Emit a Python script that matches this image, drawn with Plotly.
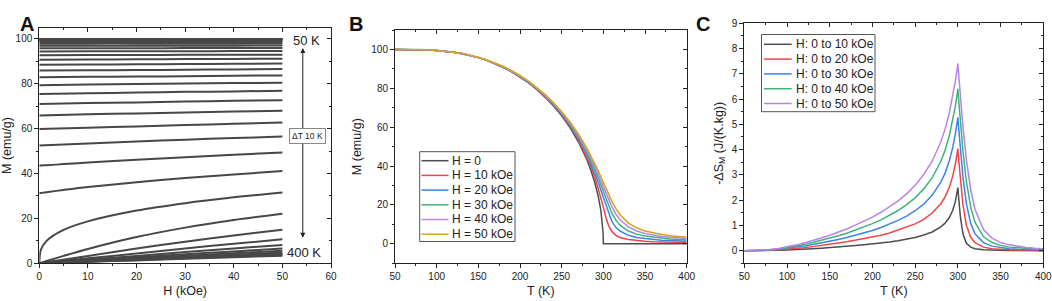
import plotly.graph_objects as go

# ---------------- data ----------------
# Temperatures (K) used for the M(T) and -dS(T) curves
T_K = [50, 60, 70, 80, 90, 100, 110, 120, 130, 140, 150, 160, 170, 180, 190, 200, 210, 220, 230, 240,
       250, 260, 270, 280, 285, 290, 294, 297, 299, 299.7, 300, 301, 303, 306, 310, 315, 320, 330, 340,
       350, 360, 370, 380, 390, 400]

# Magnetisation (emu/g) at each temperature, one list per field
M_H0 = [100.0, 100.0, 100.0, 99.9, 99.7, 99.5, 99.1, 98.6, 97.8, 96.9, 95.8, 94.4, 92.7, 90.7, 88.5,
        85.9, 82.9, 79.4, 75.5, 71.0, 65.9, 59.8, 52.5, 43.5, 37.9, 31.2, 24.3, 17.2, 10.0, 5.5,
        0, 0, 0, 0, 0, 0, 0, 0, 0, 0, 0, 0, 0, 0, 0]
M_H10 = [100.0, 100.0, 100.0, 99.9, 99.7, 99.5, 99.1, 98.6, 97.9, 97.0, 95.8, 94.5, 92.8, 90.8, 88.6,
         86.0, 83.1, 79.7, 75.8, 71.4, 66.4, 60.4, 53.4, 44.9, 39.8, 34.0, 28.5, 23.8, 20.5, 19.3,
         18.7, 17.0, 13.7, 9.7, 6.4, 4.4, 3.3, 2.2, 1.7, 1.3, 1.1, 1.0, 0.8, 0.7, 0.7]
M_H20 = [100.0, 100.0, 100.0, 99.9, 99.7, 99.5, 99.1, 98.6, 97.9, 97.0, 95.8, 94.5, 92.8, 90.9, 88.7,
         86.1, 83.2, 79.9, 76.1, 71.7, 66.8, 61.0, 54.3, 46.2, 41.4, 36.1, 31.4, 27.6, 24.9, 23.9,
         23.5, 22.1, 19.4, 15.7, 11.7, 8.5, 6.6, 4.4, 3.3, 2.7, 2.2, 1.9, 1.7, 1.5, 1.3]
M_H30 = [100.0, 100.0, 100.0, 99.9, 99.8, 99.5, 99.1, 98.6, 97.9, 97.0, 95.9, 94.5, 92.9, 91.0, 88.8,
         86.3, 83.4, 80.1, 76.4, 72.1, 67.2, 61.6, 55.1, 47.3, 42.9, 38.0, 33.7, 30.3, 28.0, 27.2,
         26.8, 25.6, 23.3, 19.9, 15.9, 12.2, 9.6, 6.6, 5.0, 4.0, 3.4, 2.9, 2.5, 2.2, 2.0]
M_H40 = [100.0, 100.0, 100.0, 99.9, 99.8, 99.5, 99.2, 98.6, 97.9, 97.0, 95.9, 94.6, 93.0, 91.1, 88.9,
         86.4, 83.6, 80.3, 76.6, 72.4, 67.6, 62.2, 55.8, 48.4, 44.2, 39.6, 35.7, 32.6, 30.5, 29.7,
         29.4, 28.4, 26.2, 23.1, 19.3, 15.3, 12.4, 8.7, 6.6, 5.3, 4.5, 3.8, 3.4, 3.0, 2.7]
M_H50 = [100.0, 100.0, 100.0, 99.9, 99.8, 99.5, 99.2, 98.6, 98.0, 97.1, 96.0, 94.6, 93.0, 91.2, 89.0,
         86.6, 83.7, 80.5, 76.9, 72.7, 68.0, 62.7, 56.5, 49.4, 45.4, 41.1, 37.4, 34.5, 32.6, 31.9,
         31.6, 30.6, 28.6, 25.7, 22.1, 18.1, 15.0, 10.7, 8.2, 6.6, 5.6, 4.8, 4.2, 3.7, 3.4]

# Low-field part of the isotherms close to Tc (panel A)
LOW_H_KOE = [0.3, 1.5, 5]
LOW_T_K = [280, 290, 300, 310]
M_LOW = [[43.6, 43.7, 44.2], [31.3, 31.7, 32.7], [5.9, 10.0, 14.9], [0.2, 1.0, 3.3]]

# Isotherm temperatures for panel A (50 K ... 400 K, step 10 K)
T_ISO = [50, 60, 70, 80, 90, 100, 110, 120, 130, 140, 150, 160, 170, 180, 190, 200, 210, 220,
         230, 240, 250, 260, 270, 280, 290, 300, 310, 320, 330, 340, 350, 360, 370, 380, 390, 400]
H_KOE = [0, 10, 20, 30, 40, 50]

# -dS_M (J/(K.kg)) for field changes 0 -> 10, 20, 30, 40, 50 kOe
DS_10 = [0.00, 0.00, 0.00, 0.01, 0.02, 0.03, 0.04, 0.06, 0.08, 0.10, 0.12, 0.14, 0.17, 0.20, 0.23,
         0.26, 0.30, 0.34, 0.39, 0.45, 0.52, 0.62, 0.74, 0.94, 1.09, 1.31, 1.60, 1.94, 2.28, 2.43,
         2.50, 2.05, 1.33, 0.66, 0.29, 0.14, 0.08, 0.04, 0.02, 0.01, 0.01, 0.01, 0.00, 0.00, 0.00]
DS_20 = [0.00, 0.00, 0.01, 0.02, 0.04, 0.06, 0.09, 0.12, 0.16, 0.20, 0.24, 0.30, 0.35, 0.41, 0.47,
         0.54, 0.61, 0.70, 0.81, 0.92, 1.06, 1.24, 1.49, 1.86, 2.13, 2.51, 2.95, 3.41, 3.80, 3.97,
         4.04, 3.58, 2.76, 1.80, 1.00, 0.53, 0.32, 0.14, 0.08, 0.05, 0.04, 0.03, 0.02, 0.02, 0.01]
DS_30 = [0.00, 0.00, 0.01, 0.03, 0.06, 0.09, 0.13, 0.18, 0.24, 0.30, 0.37, 0.44, 0.52, 0.61, 0.70,
         0.80, 0.92, 1.05, 1.20, 1.37, 1.58, 1.84, 2.20, 2.71, 3.07, 3.56, 4.09, 4.61, 5.04, 5.21,
         5.28, 4.82, 3.97, 2.89, 1.85, 1.08, 0.67, 0.32, 0.18, 0.12, 0.08, 0.06, 0.05, 0.04, 0.03]
DS_40 = [0.00, 0.01, 0.02, 0.04, 0.07, 0.12, 0.18, 0.24, 0.32, 0.40, 0.49, 0.59, 0.69, 0.81, 0.93,
         1.07, 1.22, 1.39, 1.59, 1.82, 2.09, 2.44, 2.89, 3.53, 3.97, 4.55, 5.15, 5.71, 6.16, 6.33,
         6.41, 5.94, 5.08, 3.93, 2.73, 1.73, 1.13, 0.55, 0.32, 0.21, 0.14, 0.11, 0.08, 0.07, 0.05]
DS_50 = [0.00, 0.01, 0.02, 0.05, 0.09, 0.15, 0.22, 0.30, 0.39, 0.50, 0.61, 0.73, 0.86, 1.01, 1.16,
         1.33, 1.52, 1.73, 1.97, 2.25, 2.59, 3.01, 3.55, 4.30, 4.81, 5.45, 6.10, 6.70, 7.16, 7.33,
         7.41, 6.95, 6.07, 4.89, 3.59, 2.41, 1.64, 0.84, 0.50, 0.32, 0.23, 0.17, 0.13, 0.10, 0.08]

LABELS_B = ["H = 0", "H = 10 kOe", "H = 20 kOe", "H = 30 kOe", "H = 40 kOe", "H = 50 kOe"]
LABELS_C = ["H: 0 to 10 kOe", "H: 0 to 20 kOe", "H: 0 to 30 kOe", "H: 0 to 40 kOe", "H: 0 to 50 kOe"]

# ---------------- styling ----------------
W, HP = 1052, 301
def fx(px): return px / W
def fy(py): return 1 - py / HP

FONT = "Liberation Sans, Arial, Helvetica, sans-serif"
INK = "#222222"
GREY_A = "#474747"
COLS = ["#4D4D4D", "#F2424B", "#3A86E5", "#3DB37A", "#B884E6", "#D9A11A"]

M_BY_H = [M_H0, M_H10, M_H20, M_H30, M_H40, M_H50]
DS_ALL = [DS_10, DS_20, DS_30, DS_40, DS_50]

fig = go.Figure()

# Panel A: isotherms M(H)
for T in T_ISO:
    i = T_K.index(T)
    xs = [H_KOE[0]]
    ys = [M_BY_H[0][i]]
    if T in LOW_T_K:
        xs += LOW_H_KOE
        ys += M_LOW[LOW_T_K.index(T)]
    xs += H_KOE[1:]
    ys += [M_BY_H[k][i] for k in range(1, len(H_KOE))]
    fig.add_trace(go.Scatter(x=xs, y=ys, mode="lines", name="%d K" % T,
                             line=dict(color=GREY_A, width=2, shape="spline", smoothing=0.8),
                             xaxis="x", yaxis="y", showlegend=False, hoverinfo="skip"))

# Panel B: M(T)
for lab, col, row in zip(LABELS_B, COLS, M_BY_H):
    fig.add_trace(go.Scatter(x=T_K, y=row, mode="lines", name=lab, line=dict(color=col, width=1.5),
                             xaxis="x2", yaxis="y2", showlegend=False, hoverinfo="skip"))

# Panel C: -dS(T)
for lab, col, row in zip(LABELS_C, COLS, DS_ALL):
    fig.add_trace(go.Scatter(x=T_K, y=row, mode="lines", name=lab, line=dict(color=col, width=1.5),
                             xaxis="x3", yaxis="y3", showlegend=False, hoverinfo="skip"))

# empty traces so that the mirrored (top / right) tick axes are drawn
for xa, ya in [("x4", "y"), ("x5", "y2"), ("x6", "y3"), ("x", "y4"), ("x2", "y5"), ("x3", "y6")]:
    fig.add_trace(go.Scatter(x=[None], y=[None], xaxis=xa, yaxis=ya, showlegend=False, hoverinfo="skip"))


def axis(rng, dtick, mdt, domain, anchor, title, standoff, tick0=None):
    d = dict(range=rng, dtick=dtick, ticks="outside", ticklen=4, tickwidth=1, tickcolor=INK,
             linecolor=INK, linewidth=1, showline=True, mirror=True, showgrid=False, zeroline=False,
             automargin=False, ticklabeloverflow="allow",
             tickfont=dict(size=10, color=INK, family=FONT), domain=domain, anchor=anchor,
             minor=dict(ticks="outside", dtick=mdt, ticklen=2, tickcolor=INK, showgrid=False),
             title=dict(text=title, font=dict(size=12.5, color=INK, family=FONT), standoff=standoff))
    if tick0 is not None:
        d["tick0"] = tick0
        d["minor"]["tick0"] = tick0
    return d


def mirror_axis(base, side, anchor, rng, dtick, mdt, tick0=None):
    d = dict(overlaying=base, side=side, anchor=anchor, range=rng, dtick=dtick, ticks="inside", ticklen=4,
             tickwidth=1, tickcolor=INK, showticklabels=False, showline=False, showgrid=False, zeroline=False,
             automargin=False,
             minor=dict(ticks="inside", dtick=mdt, ticklen=2, tickcolor=INK, showgrid=False))
    if tick0 is not None:
        d["tick0"] = tick0
        d["minor"]["tick0"] = tick0
    return d


YD_A = [fy(263.3), fy(27.7)]
YD_B = [fy(263.3), fy(30)]
YD_C = [fy(263.3), fy(23.3)]

fig.update_layout(
    width=W, height=HP, margin=dict(l=0, r=0, t=0, b=0, autoexpand=False),
    paper_bgcolor="white", plot_bgcolor="white", font=dict(family=FONT, color=INK),
    xaxis=axis([0, 60], 10, 5, [fx(39.3), fx(331)], "y", "H (kOe)", 4),
    yaxis=axis([0, 105], 20, 10, YD_A, "x", "M (emu/g)", 3, 0),
    xaxis2=axis([50, 400], 50, 25, [fx(395), fx(686.7)], "y2", "T (K)", 4, 50),
    yaxis2=axis([-10, 110], 20, 10, YD_B, "x2", "M (emu/g)", 6, 0),
    xaxis3=axis([50, 400], 50, 25, [fx(744.3), fx(1043.3)], "y3", "T (K)", 4, 50),
    yaxis3=axis([-0.5, 9], 1, 0.5, YD_C, "x3", "-ΔS<sub>M</sub> (J/(K.kg))", 5, 0),
    xaxis4=mirror_axis("x", "top", "y", [0, 60], 10, 5),
    xaxis5=mirror_axis("x2", "top", "y2", [50, 400], 50, 25, 50),
    xaxis6=mirror_axis("x3", "top", "y3", [50, 400], 50, 25, 50),
    yaxis4=mirror_axis("y", "right", "x", [0, 105], 20, 10, 0),
    yaxis5=mirror_axis("y2", "right", "x2", [-10, 110], 20, 10, 0),
    yaxis6=mirror_axis("y3", "right", "x3", [-0.5, 9], 1, 0.5, 0),
)

ann = []
for txt, px, py in [("A", 18, 11), ("B", 355.5, 11), ("C", 711.5, 11)]:
    ann.append(dict(text="<b>%s</b>" % txt, x=fx(px), y=fy(py), xref="paper", yref="paper",
                    showarrow=False, font=dict(size=20, color="#111111", family=FONT)))
ann.append(dict(text="50 K", x=54.9, y=99.5, xref="x", yref="y", showarrow=False,
                font=dict(size=13, color=INK, family=FONT)))
ann.append(dict(text="400 K", x=54.4, y=4.6, xref="x", yref="y", showarrow=False,
                font=dict(size=13, color=INK, family=FONT)))
ann.append(dict(text="", x=54.2, y=95.9, ax=54.2, ay=10.7, xref="x", yref="y", axref="x", ayref="y",
                showarrow=True, arrowhead=2, arrowside="end+start", arrowsize=1, arrowwidth=1, arrowcolor=INK))
ann.append(dict(text="ΔT 10 K", x=55.2, y=56.8, xref="x", yref="y", showarrow=False, bgcolor="white",
                bordercolor="#888888", borderwidth=1, borderpad=2, font=dict(size=8.5, color=INK, family=FONT)))

shapes = []
# legend of panel B
shapes.append(dict(type="rect", xref="paper", yref="paper", x0=fx(419.7), x1=fx(515), y0=fy(241.5), y1=fy(151.7),
                   line=dict(color="#555555", width=1), fillcolor="white", layer="above"))
for i, (lab, col) in enumerate(zip(LABELS_B, COLS)):
    yy = 160.7 + 14.7 * i
    shapes.append(dict(type="line", xref="paper", yref="paper", x0=fx(421.5), x1=fx(448.5), y0=fy(yy), y1=fy(yy),
                       line=dict(color=col, width=1.5), layer="above"))
    ann.append(dict(text=lab, x=fx(450), y=fy(yy), xref="paper", yref="paper", xanchor="left", yanchor="middle",
                    showarrow=False, font=dict(size=12, color=INK, family=FONT)))
# legend of panel C
shapes.append(dict(type="rect", xref="paper", yref="paper", x0=fx(761.5), x1=fx(875), y0=fy(111.7), y1=fy(34.5),
                   line=dict(color="#555555", width=1), fillcolor="white", layer="above"))
for i, (lab, col) in enumerate(zip(LABELS_C, COLS)):
    yy = 44.3 + 14.8 * i
    shapes.append(dict(type="line", xref="paper", yref="paper", x0=fx(764), x1=fx(791.7), y0=fy(yy), y1=fy(yy),
                       line=dict(color=col, width=1.5), layer="above"))
    ann.append(dict(text=lab, x=fx(794), y=fy(yy), xref="paper", yref="paper", xanchor="left", yanchor="middle",
                    showarrow=False, font=dict(size=12, color=INK, family=FONT)))

fig.update_layout(annotations=ann, shapes=shapes)
fig.write_html("out.html", config={"displayModeBar": False},
               post_script="document.body.style.margin='0px';")
